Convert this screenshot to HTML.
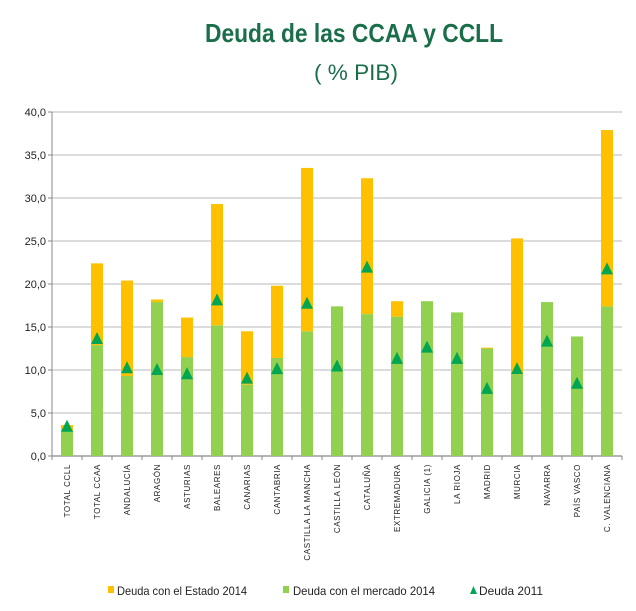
<!DOCTYPE html>
<html><head><meta charset="utf-8"><style>
body{margin:0;background:#fff;}
svg{display:block;font-family:"Liberation Sans",sans-serif;}
</style></head><body>
<svg id="chart" width="636" height="611" viewBox="0 0 636 611">
<text x="354" y="42" text-anchor="middle" font-size="26" font-weight="bold" fill="#1a6e4a" textLength="298" lengthAdjust="spacingAndGlyphs">Deuda de las CCAA y CCLL</text>
<text x="356" y="80" text-anchor="middle" font-size="22" fill="#1a6e4a" textLength="84" lengthAdjust="spacingAndGlyphs">( % PIB)</text>
<g id="grid"></g><g id="bars"></g><g id="xlabels"></g>
<g>
<rect x="108" y="586" width="6" height="7" fill="#ffc000"/>
<text x="117" y="595" font-size="12" fill="#222" textLength="130" lengthAdjust="spacingAndGlyphs">Deuda con el Estado 2014</text>
<rect x="283" y="586" width="6" height="7" fill="#92d050"/>
<text x="293" y="595" font-size="12" fill="#222" textLength="142" lengthAdjust="spacingAndGlyphs">Deuda con el mercado 2014</text>
<polygon points="470,594 477,594 473.5,586" fill="#00a651"/>
<text x="479" y="595" font-size="12" fill="#222" textLength="64" lengthAdjust="spacingAndGlyphs">Deuda 2011</text>
</g>
</svg>
<script>
const categories=["TOTAL CCLL","TOTAL CCAA","ANDALUCÍA","ARAGÓN","ASTURIAS","BALEARES","CANARIAS","CANTABRIA","CASTILLA LA MANCHA","CASTILLA LEÓN","CATALUÑA","EXTREMADURA","GALICIA (1)","LA RIOJA","MADRID","MURCIA","NAVARRA","PAÍS  VASCO","C. VALENCIANA"];
const mercado2014=[3.0,12.9,9.3,17.9,11.5,15.2,8.3,11.4,14.5,17.4,16.5,16.2,18.0,16.7,12.5,9.5,17.9,13.9,17.4];
const estado2014=[0.6,9.5,11.1,0.3,4.6,14.1,6.2,8.4,19.0,0.0,15.8,1.8,0.0,0.0,0.1,15.8,0.0,0.0,20.5];
const deuda2011=[3.4,13.6,10.2,10.0,9.5,18.1,9.0,10.1,17.7,10.4,21.9,11.3,12.6,11.3,7.8,10.1,13.3,8.4,21.7];
const yTicks=[0,5,10,15,20,25,30,35,40];
const yTickLabels=["0,0","5,0","10,0","15,0","20,0","25,0","30,0","35,0","40,0"];
const NS="http://www.w3.org/2000/svg";
const L=52,R=622,Y0=456,Y1=112,YMAX=40;
const y=v=>Y0-(v/YMAX)*(Y0-Y1);
const step=(R-L)/categories.length;
const xc=i=>L+step*(i+0.5);
function mk(t,a,p){const e=document.createElementNS(NS,t);for(const k in a)e.setAttribute(k,a[k]);p.appendChild(e);return e;}
const grid=document.getElementById('grid');
yTicks.forEach((t,i)=>{
 const l=mk('line',{x1:L,x2:R,y1:y(t),y2:y(t),stroke:t===0?'#888':'#c8c8c8','stroke-width':1.3},grid);
 
 
 const tx=mk('text',{x:L-6,y:y(t)+4,'text-anchor':'end','font-size':11,fill:'#222'},grid);
 tx.textContent=yTickLabels[i];
 
 
 const tk=mk('line',{x1:L-4,x2:L,y1:y(t),y2:y(t),stroke:'#888'},grid);
 
 
});
const ax=mk('line',{x1:L,x2:L,y1:Y1,y2:Y0,stroke:'#888'},grid);


for(let i=0;i<=categories.length;i++){
 const t=mk('line',{x1:L+step*i,x2:L+step*i,y1:Y0,y2:Y0+4,stroke:'#888'},grid);
 
 
}
const bars=document.getElementById('bars'),xl=document.getElementById('xlabels');
const bw=12;
categories.forEach((c,i)=>{
 const x=xc(i);
 const g=mk('rect',{x:x-bw/2,y:y(mercado2014[i]),width:bw,height:Y0-y(mercado2014[i]),fill:'#92d050'},bars);
 
 
 const top=mercado2014[i]+estado2014[i];
 const o=mk('rect',{x:x-bw/2,y:y(top),width:bw,height:y(mercado2014[i])-y(top),fill:'#ffc000'},bars);
 
 
 const ty=y(deuda2011[i]);
 const tr=mk('polygon',{points:`${x-6},${ty+5} ${x+6},${ty+5} ${x},${ty-7}`,fill:'#00a651'},bars);
 
 
 const lb=mk('text',{x:0,y:0,transform:`translate(${x+3},${Y0+8}) rotate(-90)`,'text-anchor':'end','font-size':8,'letter-spacing':'0.6',fill:'#222'},xl);
 lb.textContent=c;
 
 
});
</script>
</body></html>
